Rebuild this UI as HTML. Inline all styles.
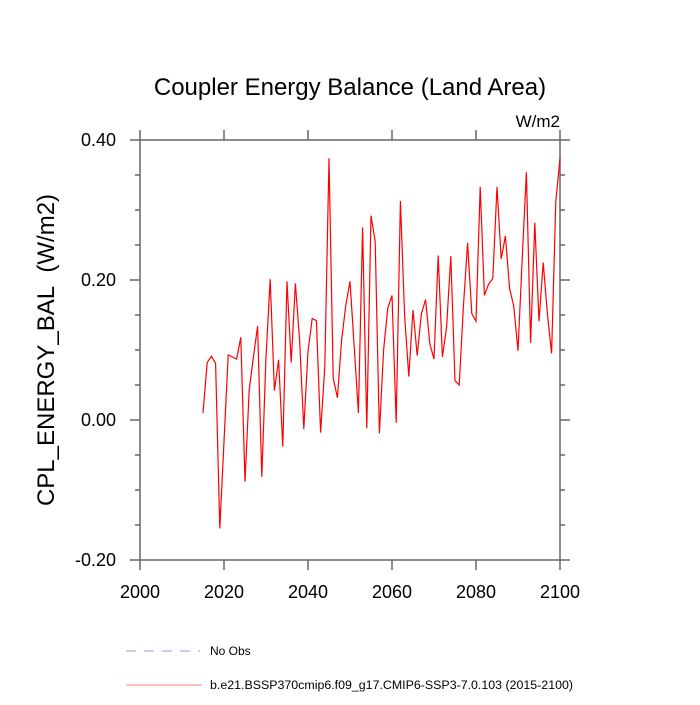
<!DOCTYPE html>
<html><head><meta charset="utf-8"><style>
html,body{margin:0;padding:0;background:#fff;}
svg text{font-family:"Liberation Sans",sans-serif;fill:#000;}
</style></head><body>
<svg id="chart" width="700" height="700" viewBox="0 0 700 700" xmlns="http://www.w3.org/2000/svg">
<rect width="700" height="700" fill="#fff"/>
<text x="350" y="95" font-size="24" text-anchor="middle">Coupler Energy Balance (Land Area)</text>
<text x="560" y="127" font-size="17" text-anchor="end">W/m2</text>
<text transform="translate(54,350) rotate(-90)" font-size="24" text-anchor="middle">CPL_ENERGY_BAL&#160; (W/m2)</text>
<g id="axes"></g>
<g id="series"></g>
<g>
<line x1="126" y1="651" x2="200" y2="651" stroke="#9999dd" stroke-width="1" stroke-dasharray="10,8"/>
<text x="210" y="655" font-size="12">No Obs</text>
<line x1="126" y1="685" x2="202" y2="685" stroke="#ff8080" stroke-width="1"/>
<text x="210" y="689" font-size="12.4">b.e21.BSSP370cmip6.f09_g17.CMIP6-SSP3-7.0.103 (2015-2100)</text>
</g>
</svg>
<script>
const years = [];
for (let y = 2015; y <= 2100; y++) years.push(y);
const values = [0.010,0.082,0.091,0.081,-0.155,-0.031,0.093,0.090,0.087,0.118,
-0.088,0.043,0.090,0.134,-0.081,0.090,0.201,0.042,0.086,-0.038,
0.198,0.082,0.195,0.114,-0.013,0.098,0.145,0.142,-0.018,0.076,
0.374,0.060,0.032,0.114,0.164,0.198,0.105,0.010,0.275,-0.012,
0.292,0.255,-0.019,0.100,0.160,0.178,-0.004,0.313,0.150,0.062,
0.157,0.092,0.152,0.172,0.109,0.087,0.235,0.090,0.133,0.234,
0.056,0.050,0.162,0.253,0.152,0.141,0.333,0.178,0.194,0.202,
0.333,0.230,0.263,0.188,0.162,0.099,0.230,0.354,0.110,0.282,
0.141,0.225,0.152,0.095,0.312,0.374];
const xTicks = [2000,2020,2040,2060,2080,2100];
const xTickLabels = ["2000","2020","2040","2060","2080","2100"];
const yTicks = [-0.2,0,0.2,0.4];
const yTickLabels = ["-0.20","0.00","0.20","0.40"];
const yMinorTicks = [-0.15,-0.1,-0.05,0.05,0.1,0.15,0.25,0.3,0.35];

const L=140,R=560,T=140,B=560;
const xScale = v => L + (v-2000)/100*(R-L);
const yScale = v => B - (v+0.2)/0.6*(B-T);
const NS="http://www.w3.org/2000/svg";
const axes=document.getElementById('axes');
const series=document.getElementById('series');
function mk(tag,attrs,parent){const e=document.createElementNS(NS,tag);for(const k in attrs)e.setAttribute(k,attrs[k]);parent.appendChild(e);return e;}
const st={stroke:'#666','stroke-width':1.5};
const frame=mk('rect',{x:L,y:T,width:R-L,height:B-T,fill:'none',stroke:'#666','stroke-width':1.5},axes);


xTicks.forEach((t,i)=>{
  const x=xScale(t);
  const a=mk('line',Object.assign({x1:x,x2:x,y1:B,y2:B+10},st),axes);
  
  
  const b=mk('line',Object.assign({x1:x,x2:x,y1:T,y2:T-10},st),axes);
  
  
  const tx=mk('text',{x:x,y:B+38,'font-size':18,'text-anchor':'middle'},axes);
  tx.textContent=xTickLabels[i];
  
  
});
yTicks.forEach((t,i)=>{
  const y=yScale(t);
  const a=mk('line',Object.assign({x1:L-10,x2:L,y1:y,y2:y},st),axes);
  
  
  const b=mk('line',Object.assign({x1:R,x2:R+10,y1:y,y2:y},st),axes);
  
  
  const tx=mk('text',{x:L-24,y:y+6,'font-size':18,'text-anchor':'end'},axes);
  tx.textContent=yTickLabels[i];
  
  
});
yMinorTicks.forEach(t=>{
  const y=yScale(t);
  const a=mk('line',Object.assign({x1:L-5,x2:L,y1:y,y2:y},st),axes);
  
  
  const b=mk('line',Object.assign({x1:R,x2:R+5,y1:y,y2:y},st),axes);
  
  
});
const pts=years.map((yr,i)=>xScale(yr).toFixed(2)+','+yScale(values[i]).toFixed(2)).join(' ');
const line=mk('polyline',{points:pts,fill:'none',stroke:'#ff0000','stroke-width':1.2,'stroke-linejoin':'miter'},series);


</script>
</body></html>
